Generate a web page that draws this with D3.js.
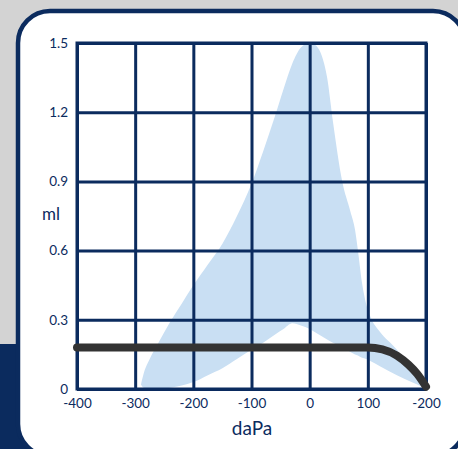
<!DOCTYPE html>
<html><head><meta charset="utf-8">
<script src="https://cdn.jsdelivr.net/npm/d3@7"></script>
<style>html,body{margin:0;padding:0;background:#d3d3d3;}svg{display:block;}</style>
</head><body>
<script>
// ---- data ----
const xTicks = [-400, -300, -200, -100, 0, 100, 200];
const xTickLabels = ["-400", "-300", "-200", "-100", "0", "100", "-200"];
const yTicks = [0, 0.3, 0.6, 0.9, 1.2, 1.5];
const yTickLabels = ["0", "0.3", "0.6", "0.9", "1.2", "1.5"];
// shaded range (upper / lower bound)
const bandX     = [-290, -285, -275, -260, -240, -220, -200, -175, -150, -125, -100, -80, -60, -45, -30, -15, 0, 10, 20, 30, 40, 56, 70, 78, 83, 90, 97, 105, 120, 150, 175, 193];
const bandUpper = [0.02, 0.07, 0.13, 0.20, 0.29, 0.37, 0.45, 0.54, 0.63, 0.75, 0.89, 1.03, 1.18, 1.30, 1.41, 1.48, 1.50, 1.49, 1.45, 1.35, 1.16, 0.90, 0.77, 0.69, 0.60, 0.46, 0.37, 0.31, 0.25, 0.17, 0.08, 0.01];
const bandLower = [0.02, 0.005, 0.00, 0.00, 0.005, 0.015, 0.03, 0.06, 0.09, 0.13, 0.17, 0.20, 0.235, 0.26, 0.285, 0.275, 0.26, 0.245, 0.23, 0.215, 0.20, 0.18, 0.16, 0.15, 0.145, 0.135, 0.13, 0.12, 0.10, 0.06, 0.03, 0.01];
// curve
const lineX = [-400, -300, -200, -100, 0, 100, 125, 150, 170, 185, 200];
const lineY = [0.18, 0.18, 0.18, 0.18, 0.18, 0.18, 0.172, 0.145, 0.105, 0.065, 0.01];

const W = 458, H = 449;
const navy = "#0b2b5e";
const svg = d3.select("body").append("svg").attr("width", W).attr("height", H);

svg.append("rect").attr("width", W).attr("height", H).attr("fill", "#d3d3d3");
svg.append("rect").attr("x", 0).attr("y", 344).attr("width", 30).attr("height", H - 344).attr("fill", navy);
svg.append("rect").attr("x", 18).attr("y", 11).attr("width", 447).attr("height", 445)
  .attr("rx", 32).attr("ry", 32).attr("fill", "#fff").attr("stroke", navy).attr("stroke-width", 4.5);

const L = 77, R = 426, T = 43, B = 389;
const x = d3.scaleLinear().domain([-400, 200]).range([L, R]);
const y = d3.scaleLinear().domain([0, 1.5]).range([B, T]);

// band
const band = bandX.map((d, i) => ({x: d, u: bandUpper[i], l: bandLower[i]}));
svg.append("path").datum(band)
  .attr("fill", "#c9dff3")
  .attr("d", d3.area().x(d => x(d.x)).y0(d => y(d.l)).y1(d => y(d.u)).curve(d3.curveMonotoneX));

// axes with grid
const font = "Lato, 'Noto Sans', sans-serif";
const gx = svg.append("g").attr("transform", `translate(0,${B})`)
  .call(d3.axisBottom(x).tickValues(xTicks).tickFormat((d, i) => xTickLabels[i]).tickSize(-(B - T)).tickPadding(9));
const gy = svg.append("g").attr("transform", `translate(${L},0)`)
  .call(d3.axisLeft(y).tickValues(yTicks).tickFormat((d, i) => yTickLabels[i]).tickSize(-(R - L)).tickPadding(9));
[gx, gy].forEach(g => {
  g.select(".domain").remove();
  g.selectAll(".tick line").attr("stroke", navy).attr("stroke-width", 3);
  g.selectAll(".tick text").attr("fill", navy).style("font-family", font).style("font-size", "13.5px");
});
svg.append("rect").attr("x", L).attr("y", T).attr("width", R - L).attr("height", B - T)
  .attr("fill", "none").attr("stroke", navy).attr("stroke-width", 3);

// line
const pts = lineX.map((d, i) => ({x: d, y: lineY[i]}));
svg.append("path").datum(pts)
  .attr("fill", "none").attr("stroke", "#333333").attr("stroke-width", 8)
  .attr("stroke-linecap", "round").attr("stroke-linejoin", "round")
  .attr("d", d3.line().x(d => x(d.x)).y(d => y(d.y)).curve(d3.curveMonotoneX));

// axis titles
svg.append("text").attr("x", 51).attr("y", 220).attr("text-anchor", "middle")
  .attr("fill", navy).style("font-family", font).style("font-size", "17px").text("ml");
svg.append("text").attr("x", 252).attr("y", 435).attr("text-anchor", "middle")
  .attr("fill", navy).style("font-family", font).style("font-size", "19px").text("daPa");
</script>
</body></html>
